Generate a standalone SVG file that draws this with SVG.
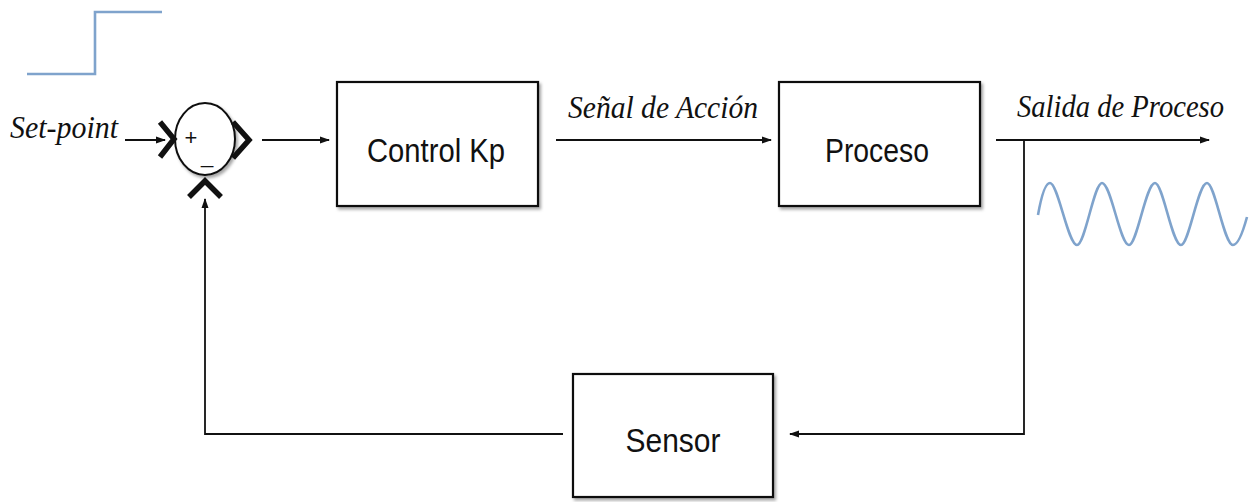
<svg xmlns="http://www.w3.org/2000/svg" width="1257" height="502" viewBox="0 0 1257 502">
<style>
.box{fill:#fff;stroke:#111;stroke-width:2.2;filter:url(#sh)}
.lbl{font-family:"Liberation Sans",Arial,sans-serif;font-size:33px;fill:#111;text-anchor:middle}
.it{font-family:"Liberation Serif","Times New Roman",serif;font-style:italic;font-size:31px;fill:#111}
.wire{fill:none;stroke:#111;stroke-width:1.8}
.chev{fill:none;stroke:#111;stroke-width:5.5;stroke-linejoin:miter}
.sig{fill:none;stroke:#7fa3cc;stroke-width:2.6}
.pm{font-family:"Liberation Sans",Arial,sans-serif;font-size:22px;fill:#111;text-anchor:middle}
</style>
<defs>
<marker id="ah" markerWidth="10" markerHeight="8" refX="9" refY="4" orient="auto" markerUnits="userSpaceOnUse">
<path d="M0,0.5 L10,4 L0,7.5 Z" fill="#111"/>
</marker>
<filter id="sh" x="-10%" y="-10%" width="125%" height="125%">
<feDropShadow dx="2" dy="2.5" stdDeviation="1.8" flood-color="#000" flood-opacity="0.35"/>
</filter>
</defs>

<g id="step-signal">
<path class="sig" d="M27,74 H95 V12 H162"/>
</g>

<g id="setpoint-label">
<text class="it" x="10" y="138" textLength="108" lengthAdjust="spacingAndGlyphs">Set-point</text>
</g>

<g id="sum">
<ellipse cx="205" cy="139" rx="30" ry="36" fill="#fff" stroke="#111" stroke-width="2" filter="url(#sh)"/>
<path class="chev" d="M160,122 L174,139 L160,157"/>
<path class="chev" d="M233,122 L249,140 L233,158"/>
<path class="chev" d="M189,197 L205,181 L221,197"/>
<text class="pm" x="191" y="145">+</text>
<text class="pm" x="207" y="163">_</text>
</g>

<g id="control">
<rect class="box" x="337" y="82" width="201" height="124"/>
<text class="lbl" x="436" y="162" textLength="138" lengthAdjust="spacingAndGlyphs">Control Kp</text>
</g>

<g id="proceso">
<rect class="box" x="779" y="82" width="201" height="124"/>
<text class="lbl" x="877" y="162" textLength="104" lengthAdjust="spacingAndGlyphs">Proceso</text>
</g>

<g id="sensor">
<rect class="box" x="573" y="374" width="200" height="123"/>
<text class="lbl" x="673" y="452" textLength="95" lengthAdjust="spacingAndGlyphs">Sensor</text>
</g>

<g id="labels">
<text class="it" x="568" y="118" textLength="190" lengthAdjust="spacingAndGlyphs">Señal de Acción</text>
<text class="it" x="1017" y="117" textLength="207" lengthAdjust="spacingAndGlyphs">Salida de Proceso</text>
</g>

<g id="output-wave">
<path class="sig" d="M1038,215 C1041,198 1045,183 1050,183 C1058,183 1068,245 1077,245 C1085,245 1094,183 1102,183 C1111,183 1120,245 1129,245 C1137,245 1146,183 1155,183 C1163,183 1172,245 1181,245 C1189,245 1198,183 1207,183 C1215,183 1224,245 1233,245 C1239,245 1244,228 1247,217"/>
</g>

<g id="connectors">
<path class="wire" d="M125,140 H165" marker-end="url(#ah)"/>
<path class="wire" d="M262,140 H329" marker-end="url(#ah)"/>
<path class="wire" d="M556,140 H771" marker-end="url(#ah)"/>
<path class="wire" d="M996,140 H1209" marker-end="url(#ah)"/>
<path class="wire" d="M1024,140 V434 H790" marker-end="url(#ah)"/>
<path class="wire" d="M563,434 H205 V199" marker-end="url(#ah)"/>
</g>
</svg>
